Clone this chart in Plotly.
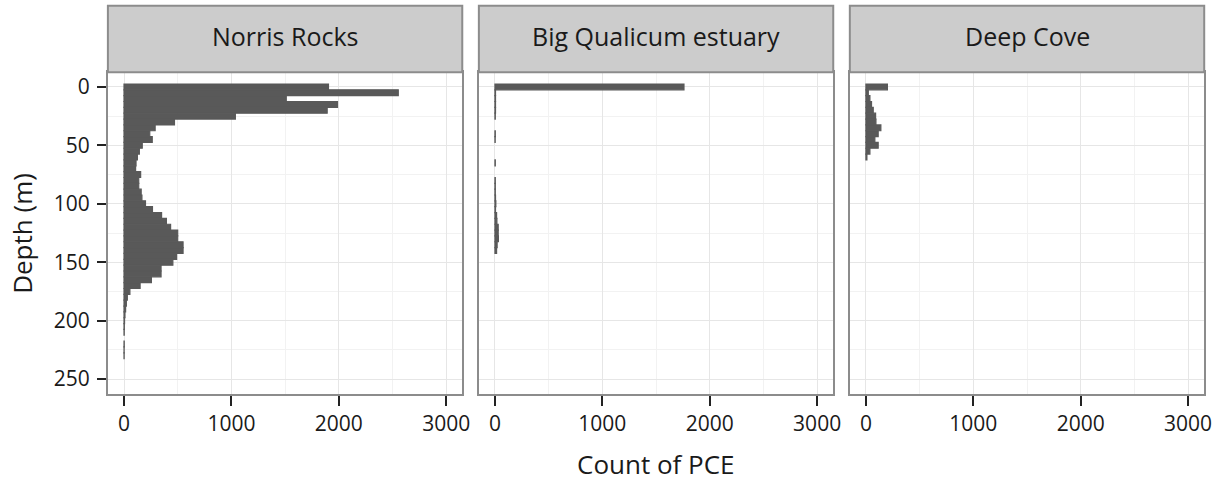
import plotly.graph_objects as go

# ---- data (counts of PCE per 5 m depth bin) ----
panels = ["Norris Rocks", "Big Qualicum estuary", "Deep Cove"]

norris_depth = list(range(0, 235, 5))
norris_count = [1904, 2554, 1511, 1988, 1892, 1037, 470, 290, 240, 263,
                170, 143, 125, 112, 108, 155, 137, 137, 160, 167,
                200, 265, 350, 395, 434, 500, 500, 550, 550, 490,
                455, 345, 345, 255, 150, 55, 31, 22, 15, 9,
                5, 3, 2, 0, 2, 1, 1]

qualicum_depth = list(range(0, 145, 5))
qualicum_count = [1760, 5, 5, 5, 5, 3, 0, 0, 3, 2,
                  0, 0, 0, 3, 0, 0, 3, 3, 3, 5,
                  8, 5, 15, 18, 30, 30, 32, 20, 15]

deepcove_depth = list(range(0, 65, 5))
deepcove_count = [200, 22, 37, 52, 68, 90, 93, 139, 114, 83, 114, 37, 9]

x_ticks = [0, 1000, 2000, 3000]
y_ticks = [0, 50, 100, 150, 200, 250]

series = [(norris_depth, norris_count),
          (qualicum_depth, qualicum_count),
          (deepcove_depth, deepcove_count)]

W, H = 1229, 481
FONT = "Open Sans"
BAR = "#595959"
BORDER = "#8c8c8c"
STRIP = "#cccccc"
TXT = "#1a1a1a"

# panel pixel extents
px_left = [108.6, 482.0, 855.4]
px_w = 356.7
py_top, py_bot = 72.3, 393.7
strip_top = 5.7

fig = go.Figure()
for i, (d, c) in enumerate(series):
    sfx = "" if i == 0 else str(i + 1)
    vals = [v if v else None for v in c]
    fig.add_trace(go.Bar(
        x=vals, y=d, orientation="h", width=5,
        marker=dict(color=BAR, line=dict(width=1.2, color=BAR)),
        xaxis="x" + sfx, yaxis="y" + sfx, showlegend=False,
        hoverinfo="x+y"))

layout = dict(
    width=W, height=H,
    margin=dict(l=0, r=0, t=0, b=0),
    paper_bgcolor="white", plot_bgcolor="white",
    font=dict(family=FONT, color=TXT, size=21),
    barmode="overlay",
    shapes=[], annotations=[],
)

ydom = [(H - py_bot) / H, (H - py_top) / H]
for i in range(3):
    sfx = "" if i == 0 else str(i + 1)
    x0 = px_left[i] / W
    x1 = (px_left[i] + px_w) / W
    layout["xaxis" + sfx] = dict(
        domain=[x0, x1], range=[-150, 3150], anchor="y" + sfx,
        tickmode="array", tickvals=x_ticks, ticktext=[str(v) for v in x_ticks],
        ticks="outside", ticklen=10, tickwidth=2, tickcolor="#222",
        tickfont=dict(size=21, family=FONT, color=TXT),
        ticklabelstandoff=0,
        showgrid=True, gridcolor="#e6e6e6", gridwidth=1.3,
        minor=dict(dtick=500, tick0=0, showgrid=True, gridcolor="#f2f2f2", gridwidth=1, ticks=""),
        showline=True, mirror=True, linecolor=BORDER, linewidth=2,
        zeroline=False, fixedrange=True)
    layout["yaxis" + sfx] = dict(
        domain=ydom, range=[262.5, -12.5], anchor="x" + sfx,
        tickmode="array", tickvals=y_ticks, ticktext=[str(v) for v in y_ticks],
        ticks="outside" if i == 0 else "", ticklen=9, tickwidth=2, tickcolor="#222",
        showticklabels=(i == 0),
        tickfont=dict(size=21, family=FONT, color=TXT),
        ticklabelstandoff=3,
        showgrid=True, gridcolor="#e6e6e6", gridwidth=1.3,
        minor=dict(dtick=25, tick0=0, showgrid=True, gridcolor="#f2f2f2", gridwidth=1, ticks=""),
        showline=True, mirror=True, linecolor=BORDER, linewidth=2,
        zeroline=False, fixedrange=True)
    # strip
    layout["shapes"].append(dict(
        type="rect", xref="paper", yref="paper",
        x0=x0, x1=x1, y0=(H - py_top) / H, y1=(H - strip_top) / H,
        fillcolor=STRIP, line=dict(color=BORDER, width=2), layer="above"))
    layout["annotations"].append(dict(
        text=panels[i], xref="paper", yref="paper",
        x=(x0 + x1) / 2, y=(H - 36) / H,
        xanchor="center", yanchor="middle", showarrow=False,
        font=dict(size=25, family=FONT, color=TXT)))

layout["annotations"].append(dict(
    text="Count of PCE", xref="paper", yref="paper",
    x=(px_left[0] + px_left[2] + px_w) / 2 / W, y=(H - 464) / H,
    xanchor="center", yanchor="middle", showarrow=False,
    font=dict(size=26, family=FONT, color=TXT)))
layout["annotations"].append(dict(
    text="Depth (m)", xref="paper", yref="paper",
    x=22 / W, y=(H - (py_top + py_bot) / 2) / H, textangle=-90,
    xanchor="center", yanchor="middle", showarrow=False,
    font=dict(size=26, family=FONT, color=TXT)))

fig.update_layout(**layout)
fig.write_html("out.html",
               config={"displayModeBar": False},
               post_script="document.body.style.margin='0';document.body.style.overflow='hidden';")
